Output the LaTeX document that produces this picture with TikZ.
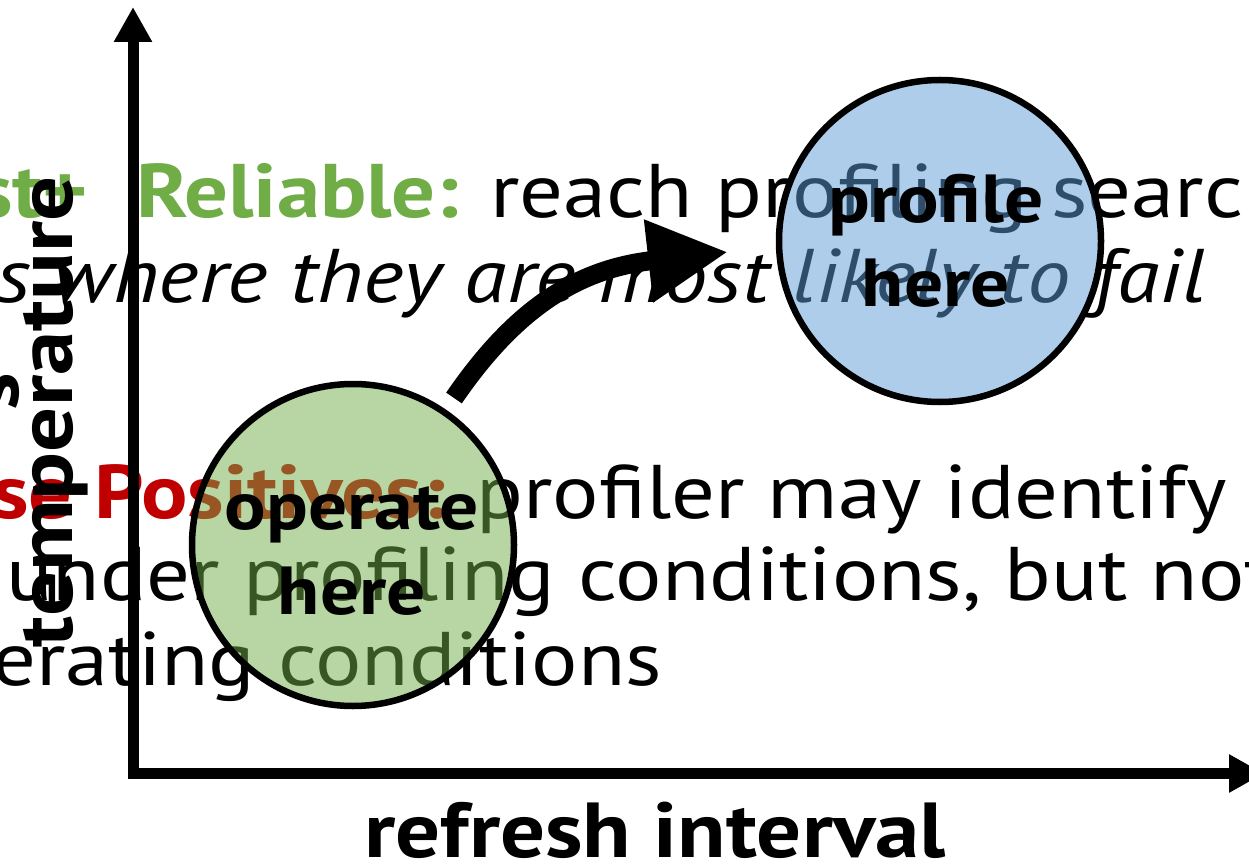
\documentclass[tikz,border=0pt]{standalone}
\usepackage{fontspec}
\setmainfont{PT Sans}[FakeStretch=1.14]
\usetikzlibrary{arrows.meta}
\definecolor{ggreen}{HTML}{70AD47}
\definecolor{gred}{HTML}{C00000}
\definecolor{gblue}{HTML}{5B9BD5}
\begin{document}
\begin{tikzpicture}[x=1pt,y=-1pt,
  body/.style={anchor=base west, inner sep=0pt, font=\fontsize{76}{80}\selectfont},
  axlab/.style={inner sep=0pt, font=\bfseries\fontsize{78}{80}\selectfont},
  axis/.style={line width=11pt, -{Triangle[length=35pt,width=36pt]}},
  zone/.style={circle, draw=black, line width=6.5pt, fill opacity=0.5, inner sep=0pt, minimum size=322pt},
  zonelab/.style={anchor=base, align=center, inner sep=0pt, font=\bfseries\fontsize{68}{85}\selectfont},
  bigarrow/.style={line width=19pt, -{Triangle[length=80pt,width=78pt]}}]
\useasboundingbox (0,0) rectangle (1249,866);
\clip (0,0) rectangle (1249,866);
% background text
\node[body] (la1) at (-24,218) {\bfseries\color{ggreen}st+};
\node[body] (la2) at (136,218) {\textcolor{ggreen}{\bfseries Reliable:} reach profiling search};
\node[body] (lb) at (-4,302) {\itshape s where they are most likely to fail};
\node[body] (lc) at (-8,518) {\textcolor{gred}{\bfseries se Positives:} profiler may identify};
\node[body] (ld) at (6,600) {under profiling conditions, but not};
\node[body] (le) at (-8,685) {erating conditions};
% y label
\node[axlab, rotate=90, anchor=base] (ylab0) at (18,392) {s};
\node[axlab, rotate=90, anchor=base] (ylab) at (72,412) {temperature};
% axes
\coordinate (ybot) at (133,778);
\coordinate (ytip) at (133,7);
\coordinate (xleft) at (128,773.5);
\coordinate (xtip) at (1264,773.5);
\draw[axis] (ybot) -- (ytip);
\draw[axis] (xleft) -- (xtip);
\node[axlab, anchor=base] (xlab) at (655,857) {refresh interval};
% zones
\node[zone, fill=ggreen] (op) at (353,545) {};
\node[zone, fill=gblue] (pr) at (940,241) {};
\node[zonelab] (oplab) at (352,614) {operate\\here};
\node[zonelab] (prlab) at (936,307) {profile\\here};
% arrow
\coordinate (arrS) at (454,398);
\coordinate (arrT) at (728,252);
\draw[bigarrow] (arrS) .. controls (515,309) and (577,269) .. (arrT);
\end{tikzpicture}
\end{document}
